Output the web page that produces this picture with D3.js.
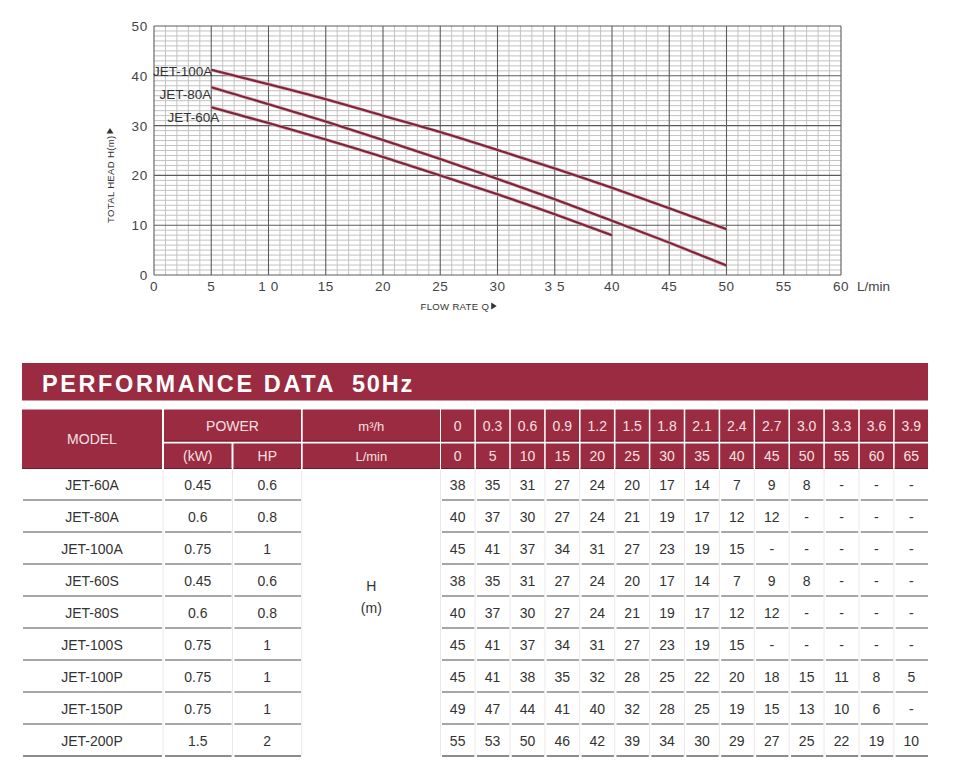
<!DOCTYPE html>
<html><head><meta charset="utf-8">
<script src="https://cdn.jsdelivr.net/npm/d3@7"></script>
<style>
body{margin:0;background:#fff}
svg{display:block;font-family:"Liberation Sans",Arial,Helvetica,sans-serif}
</style>
</head><body>
<svg id="c" width="966" height="770"></svg>
<script>
// ---------- chart data ----------
const flowPoints = [5,10,15,20,25,30,35,40,45,50];
const head100A = [41.2,38.3,35.3,32.0,28.7,25.1,21.4,17.5,13.4,9.2];
const head80A  = [37.7,34.3,30.8,27.1,23.3,19.3,15.2,10.9,6.5,1.9];
const head60A  = [33.7,30.5,27.2,23.7,20.0,16.2,12.2,8.0];
const curveNames = ["JET-100A","JET-80A","JET-60A"];
const xTickValues = [0,5,10,15,20,25,30,35,40,45,50,55,60];
const xTickLabels = ["0","5","1 0","15","20","25","30","3 5","40","45","50","55","60"];
const yTickValues = [0,10,20,30,40,50];
const yTickLabels = ["0","10","20","30","40","50"];

// ---------- table data ----------
const tableTitle = "PERFORMANCE DATA";
const tableFreq = "50Hz";
const models  = ["JET-60A","JET-80A","JET-100A","JET-60S","JET-80S","JET-100S","JET-100P","JET-150P","JET-200P"];
const powerKW = ["0.45","0.6","0.75","0.45","0.6","0.75","0.75","0.75","1.5"];
const powerHP = ["0.6","0.8","1","0.6","0.8","1","1","1","2"];
const flowM3h  = ["0","0.3","0.6","0.9","1.2","1.5","1.8","2.1","2.4","2.7","3.0","3.3","3.6","3.9"];
const flowLmin = ["0","5","10","15","20","25","30","35","40","45","50","55","60","65"];
const headRows = [
  ["38","35","31","27","24","20","17","14","7","9","8","-","-","-"],
  ["40","37","30","27","24","21","19","17","12","12","-","-","-","-"],
  ["45","41","37","34","31","27","23","19","15","-","-","-","-","-"],
  ["38","35","31","27","24","20","17","14","7","9","8","-","-","-"],
  ["40","37","30","27","24","21","19","17","12","12","-","-","-","-"],
  ["45","41","37","34","31","27","23","19","15","-","-","-","-","-"],
  ["45","41","38","35","32","28","25","22","20","18","15","11","8","5"],
  ["49","47","44","41","40","32","28","25","19","15","13","10","6","-"],
  ["55","53","50","46","42","39","34","30","29","27","25","22","19","10"]
];

const svg = d3.select("#c");
const RED = "#9a2b40";
const HEAD_TXT = "#f6e1e3";

// ================= CHART =================
const x = d3.scaleLinear().domain([0,60]).range([154,841]);
const y = d3.scaleLinear().domain([0,50]).range([275,26]);
const g = svg.append("g");

// minor grid
g.append("g").selectAll("line").data(d3.range(0,61,1).filter(v=>v%5)).join("line")
  .attr("x1",d=>x(d)).attr("x2",d=>x(d)).attr("y1",y(50)).attr("y2",y(0))
  .attr("stroke","#c2c2c2").attr("stroke-width",1);
g.append("g").selectAll("line").data(d3.range(0,51,1).filter(v=>v%10)).join("line")
  .attr("y1",d=>y(d)).attr("y2",d=>y(d)).attr("x1",x(0)).attr("x2",x(60))
  .attr("stroke","#c2c2c2").attr("stroke-width",1);
// major grid
g.append("g").selectAll("line").data(xTickValues).join("line")
  .attr("x1",d=>x(d)).attr("x2",d=>x(d)).attr("y1",y(50)).attr("y2",y(0))
  .attr("stroke","#5c5c5c").attr("stroke-width",1.1);
g.append("g").selectAll("line").data(yTickValues).join("line")
  .attr("y1",d=>y(d)).attr("y2",d=>y(d)).attr("x1",x(0)).attr("x2",x(60))
  .attr("stroke","#5c5c5c").attr("stroke-width",1.1);

// tick labels
g.append("g").selectAll("text").data(xTickValues).join("text")
  .attr("x",d=>x(d)).attr("y",291).attr("text-anchor","middle")
  .attr("font-size",13.5).attr("fill","#444").attr("letter-spacing",0.6)
  .text((d,i)=>xTickLabels[i]);
g.append("g").selectAll("text").data(yTickValues).join("text")
  .attr("x",148).attr("y",d=>y(d)+5).attr("text-anchor","end")
  .attr("font-size",13.5).attr("fill","#444").attr("letter-spacing",0.8)
  .text((d,i)=>yTickLabels[i]);
g.append("text").attr("x",x(60)+16).attr("y",291).attr("font-size",13.5)
  .attr("fill","#444").text("L/min");

// axis titles
const xt = g.append("g");
const xtt = xt.append("text").attr("x",420.5).attr("y",309.5).attr("font-size",9.6)
  .attr("letter-spacing",0.3).attr("fill","#333").text("FLOW RATE Q");
const xl = 420.5 + xtt.node().getComputedTextLength() + 2;
xt.append("path").attr("d",`M${xl},302.5 L${xl+5.5},306 L${xl},309.5Z`).attr("fill","#333");
const yt = g.append("g").attr("transform","translate(113.5,223) rotate(-90)");
const ytt = yt.append("text").attr("x",0).attr("y",0).attr("font-size",9.6)
  .attr("letter-spacing",0.3).attr("fill","#333").text("TOTAL HEAD H(m)");
const yl = ytt.node().getComputedTextLength() + 2;
yt.append("path").attr("d",`M${yl},-7 L${yl+5.5},-3.5 L${yl},0Z`).attr("fill","#333");

// curves
const curves = [
  {name:curveNames[0], pts:flowPoints.map((f,i)=>[f,head100A[i]]), dx:1, dy:6},
  {name:curveNames[1], pts:flowPoints.map((f,i)=>[f,head80A[i]]), dx:0, dy:12},
  {name:curveNames[2], pts:head60A.map((h,i)=>[flowPoints[i],h]), dx:8, dy:15}
];
const line = d3.line().x(d=>x(d[0])).y(d=>y(d[1])).curve(d3.curveNatural);
g.append("g").selectAll("path").data(curves).join("path")
  .attr("d",d=>line(d.pts)).attr("fill","none")
  .attr("stroke","#dba7b1").attr("stroke-width",3.4);
g.append("g").selectAll("path").data(curves).join("path")
  .attr("d",d=>line(d.pts)).attr("fill","none")
  .attr("stroke","#7c2438").attr("stroke-width",2.1);
g.append("g").selectAll("text").data(curves).join("text")
  .attr("x",d=>x(d.pts[0][0])+d.dx).attr("y",d=>y(d.pts[0][1])+d.dy)
  .attr("text-anchor","end").attr("font-size",13.5).attr("fill","#333")
  .text(d=>d.name);

// ================= TABLE =================
const t = svg.append("g");
// banner
t.append("rect").attr("x",22).attr("y",363).attr("width",906).attr("height",37.5).attr("fill",RED);
const bt = t.append("text").attr("x",42).attr("y",392).attr("font-size",23.5)
  .attr("font-weight","bold").attr("fill","#fff").attr("letter-spacing",2.6);
bt.append("tspan").text(tableTitle);
bt.append("tspan").attr("x",352).attr("letter-spacing",1.8).text(tableFreq);

// column geometry
const colX = d3.scaleBand().domain(d3.range(flowLmin.length)).range([441,928]).paddingInner(0.045).paddingOuter(0);
const rowY = d3.scaleBand().domain(d3.range(models.length)).range([468,756]);
const fixedCols = [
  {x0:22, x1:162},   // model
  {x0:164, x1:231.5},// kW
  {x0:233.5, x1:301},// HP
  {x0:302.7, x1:440} // unit
];
const r1 = {y0:409.5, y1:441.5}, r2 = {y0:443.5, y1:469};

function cell(x0,x1,y0,y1,label,fs){
  t.append("rect").attr("x",x0).attr("y",y0).attr("width",x1-x0).attr("height",y1-y0).attr("fill",RED);
  t.append("line").attr("x1",x0).attr("x2",x1).attr("y1",y1-0.5).attr("y2",y1-0.5)
    .attr("stroke","#6b1b2b").attr("stroke-width",1);
  t.append("text").attr("x",(x0+x1)/2).attr("y",(y0+y1)/2+5).attr("text-anchor","middle")
    .attr("font-size",fs||14).attr("fill",HEAD_TXT).text(label);
}
cell(fixedCols[0].x0,fixedCols[0].x1,r1.y0,r2.y1,"MODEL");
cell(fixedCols[1].x0,fixedCols[2].x1,r1.y0,r1.y1,"POWER");
cell(fixedCols[1].x0,fixedCols[1].x1,r2.y0,r2.y1,"(kW)");
cell(fixedCols[2].x0,fixedCols[2].x1,r2.y0,r2.y1,"HP");
cell(fixedCols[3].x0,fixedCols[3].x1,r1.y0,r1.y1,"m³/h",13);
cell(fixedCols[3].x0,fixedCols[3].x1,r2.y0,r2.y1,"L/min",13);
flowM3h.forEach((v,i)=>cell(colX(i),colX(i)+colX.bandwidth(),r1.y0,r1.y1,v,14));
flowLmin.forEach((v,i)=>cell(colX(i),colX(i)+colX.bandwidth(),r2.y0,r2.y1,v,14));

// faint vertical separators in body
const sepXs = [163, 232.5, 301.8, 440.5].concat(d3.range(1,flowLmin.length).map(i=>colX(i)-0.8));
t.append("g").selectAll("line").data(sepXs).join("line")
  .attr("x1",d=>d).attr("x2",d=>d).attr("y1",470).attr("y2",756)
  .attr("stroke","#efe6e8").attr("stroke-width",1);

// body rows
const bodyCols = [fixedCols[0],fixedCols[1],fixedCols[2]].concat(
  flowLmin.map((v,i)=>({x0:colX(i), x1:colX(i)+colX.bandwidth()})));
models.forEach((m,r)=>{
  const yb = rowY(r)+rowY.bandwidth();
  const vals = [m, powerKW[r], powerHP[r]].concat(headRows[r]);
  bodyCols.forEach((c,ci)=>{
    t.append("line").attr("x1",c.x0+1).attr("x2",c.x1).attr("y1",yb).attr("y2",yb)
      .attr("stroke", r===models.length-1 ? "#666" : "#8a8a8a").attr("stroke-width",1.5);
    t.append("text").attr("x",(c.x0+c.x1)/2).attr("y",yb-10.5).attr("text-anchor","middle")
      .attr("font-size",14).attr("fill","#333").text(vals[ci]);
  });
});
// merged H (m) cell
const uc = (fixedCols[3].x0+fixedCols[3].x1)/2;
t.append("text").attr("x",uc).attr("y",591).attr("text-anchor","middle").attr("font-size",14).attr("fill","#333").text("H");
t.append("text").attr("x",uc).attr("y",613).attr("text-anchor","middle").attr("font-size",14).attr("fill","#333").text("(m)");
</script>
</body></html>
